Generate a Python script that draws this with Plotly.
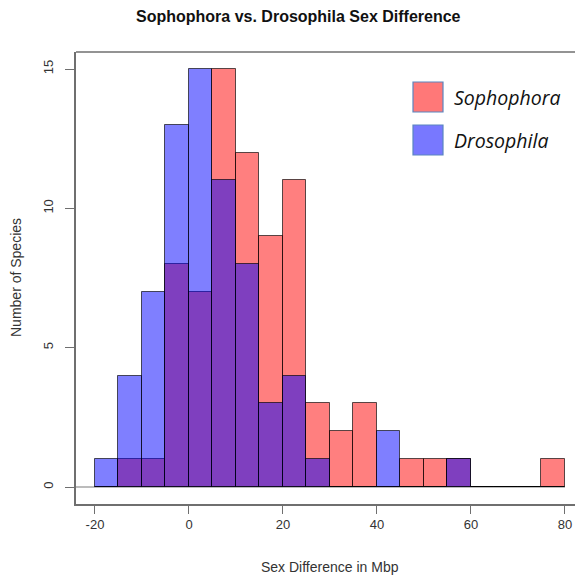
import plotly.graph_objects as go

# Histogram bins (Mbp), width 5, from -20 to 80
bin_edges = list(range(-20, 81, 5))
bin_width = 5

# Number of species falling in each bin
sophophora_counts = [0, 1, 1, 8, 7, 15, 12, 9, 11, 3, 2, 3, 0, 1, 1, 1, 0, 0, 0, 1]
drosophila_counts = [1, 4, 7, 13, 15, 11, 8, 3, 4, 1, 0, 0, 2, 0, 0, 1, 0, 0, 0, 0]

x_ticks = [-20, 0, 20, 40, 60, 80]
y_ticks = [0, 5, 10, 15]

title_text = "Sophophora vs. Drosophila Sex Difference"
x_title = "Sex Difference in Mbp"
y_title = "Number of Species"
legend_names = ["Sophophora", "Drosophila"]

W, H = 575, 575
ML, MR, MT, MB = 76, 0, 52, 71
XR = [-24.04, 82.13]
YR = [-0.61, 15.61]

bin_centers = [e + bin_width / 2 for e in bin_edges[:-1]]

RED = "rgba(255,0,0,0.5)"
BLUE = "rgba(0,0,255,0.5)"
EDGE = "rgba(0,0,0,0.65)"
AXIS = "#6f6f6f"
TXT = "#333333"

fig = go.Figure()
fig.add_trace(go.Bar(x=bin_centers, y=sophophora_counts, width=bin_width,
                     marker=dict(color=RED, line=dict(color=EDGE, width=1)),
                     name=legend_names[0], showlegend=False))
fig.add_trace(go.Bar(x=bin_centers, y=drosophila_counts, width=bin_width,
                     marker=dict(color=BLUE, line=dict(color=EDGE, width=1)),
                     name=legend_names[1], showlegend=False))


def px_x(p):
    return (p - ML) / (W - ML - MR)


def px_y(p):
    return 1 - (p - MT) / (H - MT - MB)


shapes = [
    # baseline under the bars
    dict(type="line", xref="x", yref="y", x0=XR[0], x1=bin_edges[-1], y0=0, y1=0,
         line=dict(color="#7a7a7a", width=1.2), layer="below"),
    # top edge of the frame
    dict(type="line", xref="paper", yref="paper", x0=0, x1=1, y0=1, y1=1,
         line=dict(color=AXIS, width=1.5)),
]

# legend swatches
legend_fill = ["#ff7878", "#7878ff"]
legend_top = [82, 125]
for fill, top in zip(legend_fill, legend_top):
    shapes.append(dict(type="rect", xref="paper", yref="paper",
                       x0=px_x(413), x1=px_x(443), y0=px_y(top + 30), y1=px_y(top),
                       fillcolor=fill, line=dict(color="#5a86c0", width=1.2)))

annotations = [
    dict(text=f"<b>{title_text}</b>", xref="paper", yref="paper",
         x=px_x(298), y=px_y(17), showarrow=False, xanchor="center", yanchor="middle",
         font=dict(family="Liberation Sans, Arial", size=16, color="#111")),
    dict(text=x_title, xref="paper", yref="paper", x=px_x(330), y=px_y(567),
         showarrow=False, xanchor="center", yanchor="middle",
         font=dict(family="Liberation Sans, Arial", size=14, color=TXT)),
    dict(text=y_title, xref="paper", yref="paper", x=px_x(16), y=px_y(278),
         showarrow=False, xanchor="center", yanchor="middle", textangle=-90,
         font=dict(family="Liberation Sans, Arial", size=14, color=TXT)),
]
for name, top in zip(legend_names, legend_top):
    annotations.append(dict(text=f"<i>{name}</i>", xref="paper", yref="paper",
                            x=px_x(452), y=px_y(top + 15), showarrow=False,
                            xanchor="left", yanchor="middle",
                            font=dict(family="Open Sans", size=19.5, color="#111")))

fig.update_layout(
    width=W, height=H,
    margin=dict(l=ML, r=MR, t=MT, b=MB, pad=0),
    paper_bgcolor="white", plot_bgcolor="white",
    barmode="overlay", bargap=0,
    shapes=shapes, annotations=annotations,
    xaxis=dict(range=XR, tickvals=x_ticks, ticktext=[str(v) for v in x_ticks],
               showgrid=False, zeroline=False, showline=True,
               linecolor=AXIS, linewidth=1.5, ticks="outside", ticklen=8,
               tickcolor=AXIS, tickwidth=1.2,
               tickfont=dict(family="Liberation Sans, Arial", size=13, color=TXT)),
    yaxis=dict(range=YR, tickvals=y_ticks, ticktext=[str(v) for v in y_ticks],
               showgrid=False, zeroline=False, showline=True,
               linecolor=AXIS, linewidth=1.5, ticks="outside", ticklen=9,
               tickcolor=AXIS, tickwidth=1.2, tickangle=-90, ticklabelstandoff=7,
               tickfont=dict(family="Liberation Sans, Arial", size=13, color=TXT)),
)

fig.write_html("out.html")
